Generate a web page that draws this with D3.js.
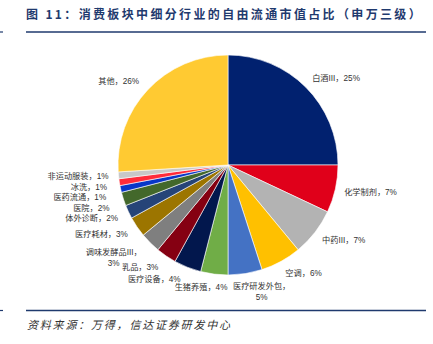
<!DOCTYPE html>
<html>
<head>
<meta charset="utf-8">
<script src="https://cdn.jsdelivr.net/npm/d3@7"></script>
<style>
  html, body { margin: 0; padding: 0; background: #fff; }
  svg { display: block; }
</style>
</head>
<body>
<svg id="chart" width="433" height="344"></svg>
<script>
// Free-float market cap share of consumer sub-industries (SW level 3)
const categories = ["白酒III", "化学制剂", "中药III", "空调", "医疗研发外包", "生猪养殖", "医疗设备", "乳品",
  "调味发酵品III", "医疗耗材", "体外诊断", "医院", "医药流通", "冰洗", "非运动服装", "其他"];
const shares = [25, 7, 7, 6, 5, 4, 4, 3, 3, 3, 2, 2, 1, 1, 1, 26];
const sliceColors = ["#01216F", "#E0001A", "#B3B3B3", "#FFC000", "#4472C4", "#70AD47", "#02174D", "#850012",
  "#7F7F7F", "#9C7500", "#264478", "#43682B", "#0836C8", "#FF2B3A", "#C8C8C8", "#FFCA32"];
const twoLineLabels = ["医疗研发外包", "调味发酵品III"];

const titleText = "图 11：消费板块中细分行业的自由流通市值占比（申万三级）";
const sourceText = "资料来源：万得，信达证券研发中心";

const svg = d3.select("#chart");
const navy = "#1F3A6E";
const cx = 228, cy = 165, radius = 110;

// Title and rules
svg.append("text")
  .attr("x", 26).attr("y", 18.5)
  .attr("fill", navy)
  .attr("font-family", "'Noto Sans CJK SC', sans-serif")
  .attr("font-weight", 700)
  .attr("font-size", 12)
  .attr("letter-spacing", 2.35)
  .text(titleText);

[32, 310.5].forEach(y => {
  svg.append("line").attr("x1", 26).attr("x2", 426).attr("y1", y).attr("y2", y)
    .attr("stroke", navy).attr("stroke-width", 1.6);
  svg.append("line").attr("x1", 0).attr("x2", 3).attr("y1", y).attr("y2", y)
    .attr("stroke", navy).attr("stroke-width", 1.2);
});

svg.append("text")
  .attr("x", 27).attr("y", 329)
  .attr("fill", "#333")
  .attr("font-family", "'Noto Sans CJK SC', sans-serif")
  .attr("font-style", "italic")
  .attr("font-size", 11)
  .attr("letter-spacing", 1.8)
  .text(sourceText);

// Pie
const data = categories.map((name, i) => ({ name, value: shares[i], color: sliceColors[i] }));
const pie = d3.pie().sort(null).value(d => d.value).startAngle(0).endAngle(2 * Math.PI);
const arc = d3.arc().innerRadius(0).outerRadius(radius);
const arcs = pie(data);

const g = svg.append("g").attr("transform", `translate(${cx},${cy})`);
g.selectAll("path").data(arcs).join("path")
  .attr("d", arc)
  .attr("fill", d => d.data.color)
  .attr("stroke", "#fff")
  .attr("stroke-width", 0.6);

// Outside labels: place radially, then spread crowded ones on the left side
const labelFont = "'Liberation Sans', Arial, 'Noto Sans CJK SC', sans-serif";
const labels = arcs.map(d => {
  const a = (d.startAngle + d.endAngle) / 2;
  const s = Math.sin(a), c = Math.cos(a);
  let x, side;
  if (Math.abs(s) < 0.2) { side = "middle"; x = cx + 215 * s; }
  else if (s > 0) { side = "start"; x = cx + 119 * s; }
  else { side = "end"; x = cx + 115 * s - 5; }
  return { d, side, x, y: cy - 123 * c };
});

const leftSide = labels.filter(l => l.side === "end" && l.y > cy).sort((a, b) => a.y - b.y);
for (let i = 1; i < leftSide.length; i++) {
  const minY = leftSide[i - 1].y + 10.5;
  if (leftSide[i].y < minY) {
    const push = minY - leftSide[i].y;
    leftSide[i].y = minY;
    leftSide[i].x -= push * 0.8;
  }
}

labels.forEach(l => {
  const d = l.d;
  const lines = twoLineLabels.includes(d.data.name)
    ? [d.data.name + "，", d.data.value + "%"]
    : [d.data.name + "，" + d.data.value + "%"];

  const t = svg.append("text")
    .attr("font-family", labelFont)
    .attr("font-size", 8.2)
    .attr("fill", "#333")
    .attr("text-anchor", "middle");
  lines.forEach((ln, i) => {
    t.append("tspan").attr("x", 0).attr("y", l.y + i * 11).attr("dy", "0.35em").text(ln);
  });
  const w = t.node().getBBox().width;
  let xc = l.x;
  if (l.side === "start") xc = l.x + w / 2;
  if (l.side === "end") xc = l.x - w / 2;
  t.selectAll("tspan").attr("x", xc);
});
</script>
</body>
</html>
